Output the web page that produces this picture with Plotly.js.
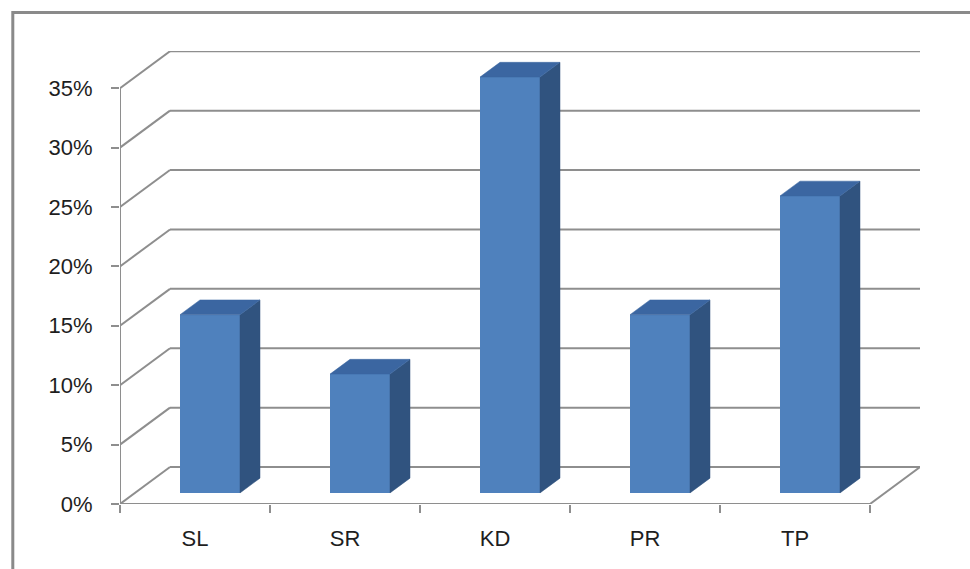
<!DOCTYPE html>
<html>
<head>
<meta charset="utf-8">
<script src="https://cdn.plot.ly/plotly-3.0.1.min.js"></script>
<style>
  html, body { margin: 0; padding: 0; background: #ffffff; overflow: hidden; }
  #chart { width: 970px; height: 569px; }
</style>
</head>
<body>
<div id="chart"></div>
<script>
// ---- data ----
const categories = ['SL', 'SR', 'KD', 'PR', 'TP'];
const values = [15, 10, 35, 15, 25];
const yTickValues = [0, 5, 10, 15, 20, 25, 30, 35];
const yTickLabels = ['0%', '5%', '10%', '15%', '20%', '25%', '30%', '35%'];

// ---- 3D look parameters (style, not data) ----
const DX = 1 / 3;     // full depth offset, x units
const DY = 3.11;      // full depth offset, y units (%)
const FRONT = 0.3;    // bar front face depth fraction
const BDEPTH = 0.4;   // bar depth fraction
const BWIDTH = 0.4;   // bar width in category units

const gridColor = '#8e8e8e';
const frontColor = '#4f81bd';
const topColor = '#3b66a1';
const sideColor = '#30537f';

const xCenters = categories.map((c, i) => i);
const xMin = -0.5, xMax = categories.length - 0.5;
const yMaxTick = yTickValues[yTickValues.length - 1];

// ---- gridlines / walls as shapes below traces ----
const shapes = [];
yTickValues.forEach(v => {
  shapes.push({type: 'line', xref: 'x', yref: 'y', layer: 'below',
    x0: xMin, y0: v, x1: xMin + DX, y1: v + DY,
    line: {color: gridColor, width: 2}});
  shapes.push({type: 'line', xref: 'x', yref: 'y', layer: 'below',
    x0: xMin + DX, y0: v + DY, x1: xMax + DX, y1: v + DY,
    line: {color: gridColor, width: 2}});
});
shapes.push({type: 'line', xref: 'x', yref: 'y', layer: 'below',
  x0: xMin, y0: 0, x1: xMin, y1: yMaxTick, line: {color: gridColor, width: 2}});
shapes.push({type: 'line', xref: 'x', yref: 'y', layer: 'below',
  x0: xMin, y0: 0, x1: xMax, y1: 0, line: {color: gridColor, width: 2}});
shapes.push({type: 'line', xref: 'x', yref: 'y', layer: 'below',
  x0: xMax, y0: 0, x1: xMax + DX, y1: DY, line: {color: gridColor, width: 2}});
shapes.push({type: 'rect', xref: 'paper', yref: 'paper', layer: 'above',
  x0: -0.134, y0: -0.3, x1: 1.2, y1: 1.085,
  line: {color: '#8a8a8a', width: 3}});

// ---- traces ----
const base = FRONT * DY;
const traces = [];
traces.push({
  type: 'bar',
  x: xCenters.map(x => x + FRONT * DX),
  y: values,
  base: values.map(() => base),
  width: BWIDTH,
  marker: {color: frontColor, line: {width: 0}},
  hoverinfo: 'skip',
  showlegend: false
});
values.forEach((v, i) => {
  const x0 = xCenters[i] + FRONT * DX - BWIDTH / 2;
  const x1 = xCenters[i] + FRONT * DX + BWIDTH / 2;
  const top = base + v;
  const ddx = BDEPTH * DX, ddy = BDEPTH * DY;
  traces.push({
    type: 'scatter', mode: 'lines', fill: 'toself',
    x: [x1, x1 + ddx, x1 + ddx, x1, x1],
    y: [base, base + ddy, top + ddy, top, base],
    fillcolor: sideColor, line: {color: sideColor, width: 0.5},
    hoverinfo: 'skip', showlegend: false
  });
  traces.push({
    type: 'scatter', mode: 'lines', fill: 'toself',
    x: [x0, x1, x1 + ddx, x0 + ddx, x0],
    y: [top, top, top + ddy, top + ddy, top],
    fillcolor: topColor, line: {color: topColor, width: 0.5},
    hoverinfo: 'skip', showlegend: false
  });
});
traces.push({type: 'scatter', mode: 'markers', x: xCenters, y: values.map(() => 0),
  xaxis: 'x2', marker: {opacity: 0}, hoverinfo: 'skip', showlegend: false});

const tickFont = {family: 'Liberation Sans, Arial, sans-serif', size: 22, color: '#1e1e1e'};

const boundaries = [];
for (let i = 0; i <= categories.length; i++) boundaries.push(xMin + i);

const layout = {
  width: 970, height: 569,
  margin: {l: 120, r: 50, t: 51, b: 65},
  paper_bgcolor: '#ffffff', plot_bgcolor: '#ffffff',
  showlegend: false,
  xaxis: {
    range: [xMin, xMax + DX], showgrid: false, zeroline: false, showline: false,
    tickvals: boundaries, ticktext: boundaries.map(() => ''),
    ticks: 'outside', ticklen: 8, tickwidth: 2, tickcolor: gridColor,
    fixedrange: true
  },
  xaxis2: {
    overlaying: 'x', anchor: 'y', side: 'bottom',
    range: [xMin, xMax + DX], showgrid: false, zeroline: false, showline: false,
    tickvals: xCenters, ticktext: categories, ticks: '', ticklabelstandoff: 19,
    tickfont: tickFont, fixedrange: true
  },
  yaxis: {
    range: [0, 38.13], showgrid: false, zeroline: false, showline: false,
    tickvals: yTickValues, ticktext: yTickLabels,
    ticks: 'outside', ticklen: 8, tickwidth: 2, tickcolor: gridColor,
    ticklabelstandoff: 14, tickfont: tickFont, fixedrange: true
  },
  shapes: shapes
};

Plotly.newPlot('chart', traces, layout, {displayModeBar: false, staticPlot: true});
</script>
</body>
</html>
